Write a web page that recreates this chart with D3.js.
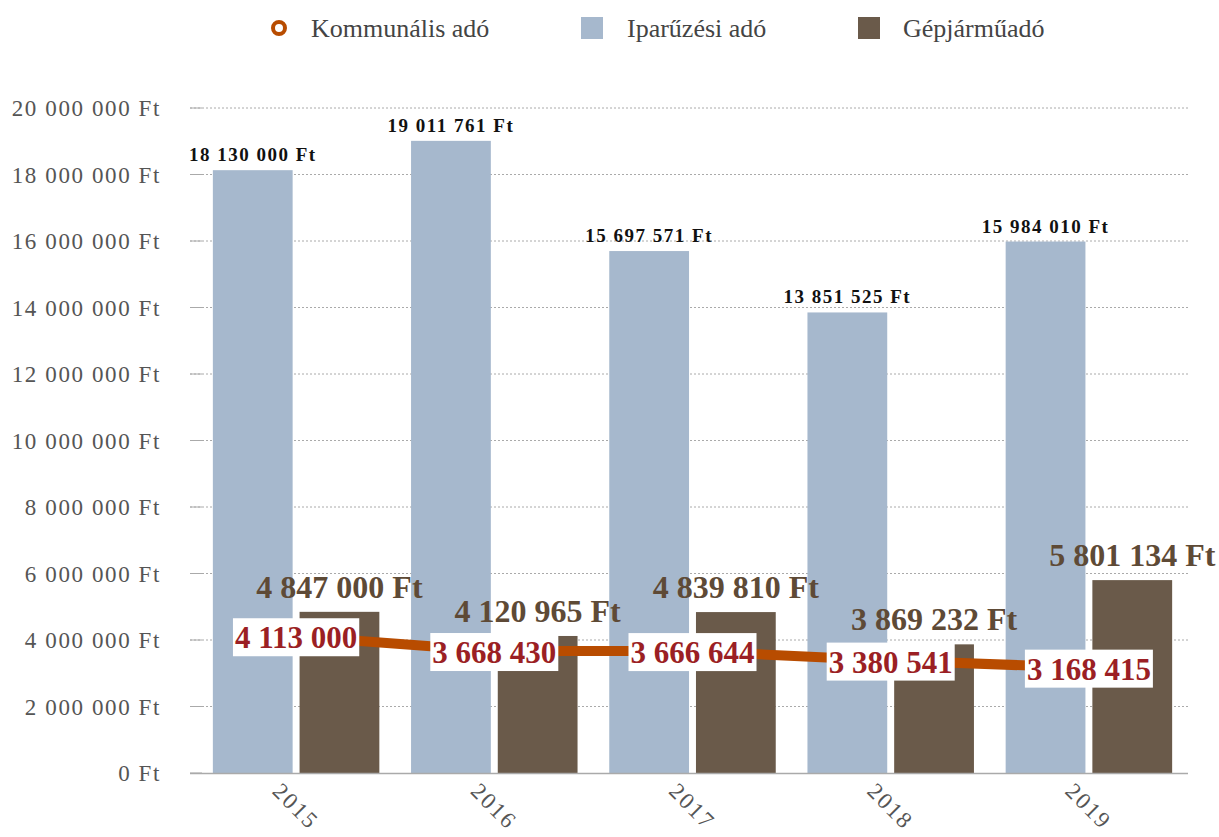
<!DOCTYPE html>
<html lang="hu">
<head>
<meta charset="UTF-8">
<script src="https://cdn.jsdelivr.net/npm/d3@7"></script>
<style>
  * { margin: 0; padding: 0; }
  body { background: #fff; }
  text { font-family: "Liberation Serif", "DejaVu Serif", serif; }
</style>
</head>
<body>
<script>
const years = ["2015", "2016", "2017", "2018", "2019"];
const iparuzesi = [18130000, 19011761, 15697571, 13851525, 15984010];
const gepjarmu = [4847000, 4120965, 4839810, 3869232, 5801134];
const kommunalis = [4113000, 3668430, 3666644, 3380541, 3168415];
const yTicks = [0, 2000000, 4000000, 6000000, 8000000, 10000000, 12000000, 14000000, 16000000, 18000000, 20000000];
const seriesNames = ["Kommunális adó", "Iparűzési adó", "Gépjárműadó"];

const width = 1219, height = 837;
const blue = "#a6b8cd", brown = "#6a5a4a", lineCol = "#b84c00";

const loc = d3.formatLocale({ decimal: ",", thousands: " ", grouping: [3], currency: ["", " Ft"] });
const fmt = loc.format(",d");

const svg = d3.select("body").append("svg")
  .attr("width", width).attr("height", height);

const y = d3.scaleLinear().domain([0, 20000000]).range([773, 108]);
const x0 = d3.scaleBand().domain(years).range([197, 1188]).paddingInner(0.16).paddingOuter(0.08);
const x1 = d3.scaleBand().domain(["ip", "gj"]).range([0, x0.bandwidth()]).paddingInner(0.08);

// grid
const grid = svg.append("g");
grid.selectAll("line.grid").data(yTicks.slice(1)).enter().append("line")
  .attr("x1", 190).attr("x2", 1188)
  .attr("y1", d => y(d)).attr("y2", d => y(d))
  .attr("stroke", "#aaa").attr("stroke-dasharray", "2,2");
grid.selectAll("line.tick").data(yTicks).enter().append("line")
  .attr("x1", 190).attr("x2", 202)
  .attr("y1", d => y(d)).attr("y2", d => y(d))
  .attr("stroke", "#aaa");
grid.selectAll("text").data(yTicks).enter().append("text")
  .attr("x", 161).attr("y", d => y(d) + 8)
  .attr("text-anchor", "end").attr("font-size", 23).attr("letter-spacing", 1.6).attr("fill", "#555")
  .text(d => fmt(d) + " Ft");

// bars
const groups = svg.selectAll("g.year").data(years).enter().append("g")
  .attr("transform", d => `translate(${x0(d)},0)`);
groups.append("rect")
  .attr("x", x1("ip")).attr("width", x1.bandwidth())
  .attr("y", (d, i) => y(iparuzesi[i])).attr("height", (d, i) => y(0) - y(iparuzesi[i]))
  .attr("fill", blue);
groups.append("rect")
  .attr("x", x1("gj")).attr("width", x1.bandwidth())
  .attr("y", (d, i) => y(gepjarmu[i])).attr("height", (d, i) => y(0) - y(gepjarmu[i]))
  .attr("fill", brown);

// x axis line
svg.append("line").attr("x1", 190).attr("x2", 1188).attr("y1", 773.5).attr("y2", 773.5)
  .attr("stroke", "#aaa").attr("stroke-width", 1.5);

// x labels
svg.selectAll("text.xl").data(years).enter().append("text")
  .attr("transform", d => `translate(${x0(d) + x0.bandwidth() / 2},${806}) rotate(45)`)
  .attr("text-anchor", "middle").attr("dy", "0.35em")
  .attr("font-size", 23).attr("letter-spacing", 2).attr("fill", "#555")
  .text(d => d);

// bar labels (own layer so the next group's bars don't cover them)
const labels = svg.append("g");
labels.selectAll("text.ip").data(years).enter().append("text")
  .attr("x", d => x0(d) + x1("ip") + x1.bandwidth() / 2)
  .attr("y", (d, i) => y(iparuzesi[i]) - 9)
  .attr("text-anchor", "middle").attr("font-size", 19).attr("letter-spacing", 1.5)
  .attr("font-weight", "bold").attr("fill", "#111")
  .text((d, i) => fmt(iparuzesi[i]) + " Ft");

labels.selectAll("text.gj").data(years).enter().append("text")
  .attr("x", d => x0(d) + x1("gj") + x1.bandwidth() / 2)
  .attr("y", (d, i) => y(gepjarmu[i]) - 14)
  .attr("text-anchor", "middle").attr("font-size", 32).attr("font-weight", "bold").attr("fill", "#5e4a36")
  .text((d, i) => fmt(gepjarmu[i]) + " Ft");

// line
const cx = d => x0(d) + x0.bandwidth() / 2;
const line = d3.line().x((d, i) => cx(years[i])).y(d => y(d));
svg.append("path").datum(kommunalis)
  .attr("d", line).attr("fill", "none").attr("stroke", lineCol).attr("stroke-width", 10);

const ll = svg.selectAll("g.ll").data(kommunalis).enter().append("g")
  .attr("transform", (d, i) => `translate(${cx(years[i])},${y(d)})`);
ll.append("rect").attr("fill", "#fff");
ll.append("text")
  .attr("text-anchor", "middle").attr("y", 12)
  .attr("font-size", 31).attr("font-weight", "bold").attr("fill", "#9b1f24")
  .text(d => fmt(d))
  .each(function () {
    const b = this.getBBox();
    d3.select(this.previousSibling)
      .attr("x", b.x - 2).attr("width", b.width + 4)
      .attr("y", -18).attr("height", 38);
  });

// legend
const lg = svg.append("g");
lg.append("circle").attr("cx", 279).attr("cy", 28).attr("r", 6)
  .attr("fill", "#fff").attr("stroke", lineCol).attr("stroke-width", 4);
lg.append("rect").attr("x", 581).attr("y", 17).attr("width", 22).attr("height", 22).attr("fill", blue);
lg.append("rect").attr("x", 858).attr("y", 17).attr("width", 22).attr("height", 22).attr("fill", brown);
const lx = [311, 627, 903];
lg.selectAll("text").data(seriesNames).enter().append("text")
  .attr("x", (d, i) => lx[i]).attr("y", 37)
  .attr("font-size", 26).attr("fill", "#444")
  .text(d => d);
</script>
</body>
</html>
